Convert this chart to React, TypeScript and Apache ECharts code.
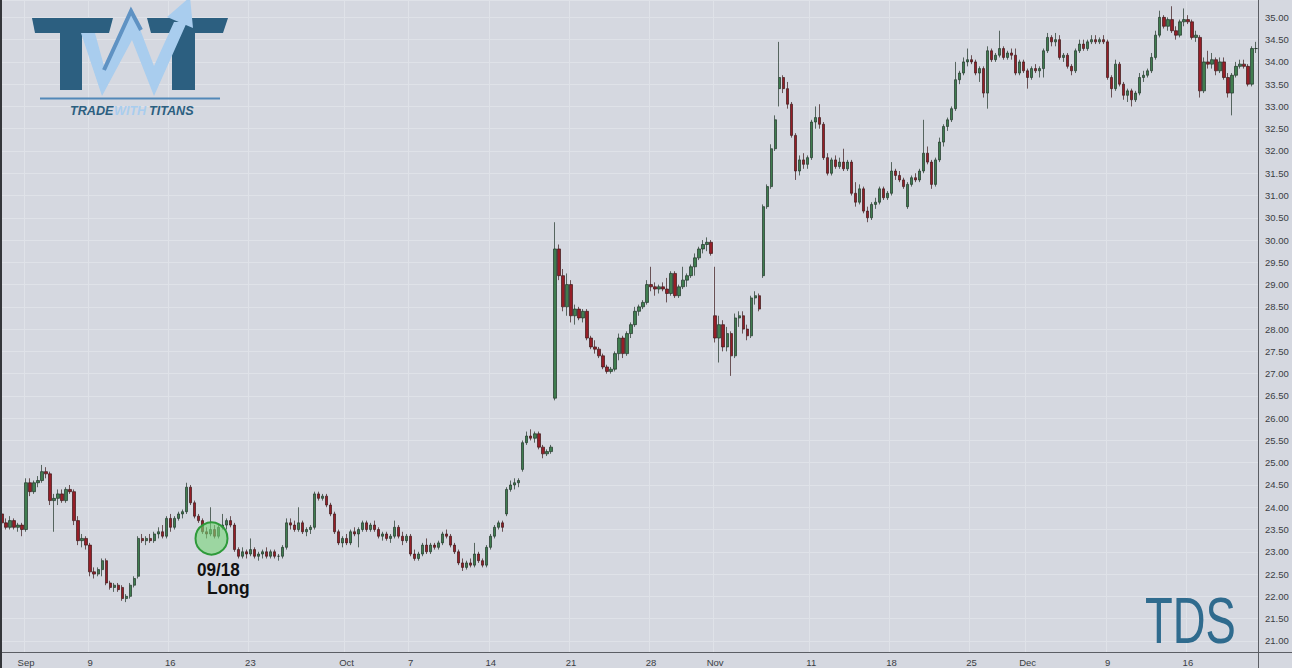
import React, { useEffect, useRef } from "react";
import * as echarts from "echarts";

// ---- data ----
const tradingDays = [
  "2024-08-29", "2024-08-30",
  "2024-09-03", "2024-09-04", "2024-09-05", "2024-09-06",
  "2024-09-09", "2024-09-10", "2024-09-11", "2024-09-12", "2024-09-13",
  "2024-09-16", "2024-09-17", "2024-09-18", "2024-09-19", "2024-09-20",
  "2024-09-23", "2024-09-24", "2024-09-25", "2024-09-26", "2024-09-27",
  "2024-09-30", "2024-10-01", "2024-10-02", "2024-10-03", "2024-10-04",
  "2024-10-07", "2024-10-08", "2024-10-09", "2024-10-10", "2024-10-11",
  "2024-10-14", "2024-10-15", "2024-10-16", "2024-10-17", "2024-10-18",
  "2024-10-21", "2024-10-22", "2024-10-23", "2024-10-24", "2024-10-25",
  "2024-10-28", "2024-10-29", "2024-10-30", "2024-10-31", "2024-11-01",
  "2024-11-04", "2024-11-05", "2024-11-06", "2024-11-07", "2024-11-08",
  "2024-11-11", "2024-11-12", "2024-11-13", "2024-11-14", "2024-11-15",
  "2024-11-18", "2024-11-19", "2024-11-20", "2024-11-21", "2024-11-22",
  "2024-11-25", "2024-11-26", "2024-11-27", "2024-11-29",
  "2024-12-02", "2024-12-03", "2024-12-04", "2024-12-05", "2024-12-06",
  "2024-12-09", "2024-12-10", "2024-12-11", "2024-12-12", "2024-12-13",
  "2024-12-16", "2024-12-17", "2024-12-18", "2024-12-19", "2024-12-20",
];
const barsPerDay = 4;
const shortDays: Record<string, number> = { "2024-08-29": 2, "2024-11-29": 2, "2024-12-20": 2 };

const tickDays = [
  "2024-09-03", "2024-09-09", "2024-09-16", "2024-09-23", "2024-10-01", "2024-10-07",
  "2024-10-14", "2024-10-21", "2024-10-28", "2024-11-01", "2024-11-11", "2024-11-18",
  "2024-11-25", "2024-12-02", "2024-12-09", "2024-12-16",
];
const tickLabels = ["Sep", "9", "16", "23", "Oct", "7", "14", "21", "28", "Nov", "11", "18", "25", "Dec", "9", "16"];

const opens = [
  23.85, 23.65, 23.55, 23.7, 23.55, 23.6, 23.5, 24.55,
  24.35, 24.55, 24.6, 24.8, 24.75, 24.15, 24.2, 24.3, 24.15, 24.4,
  24.35, 23.7, 23.25, 23.3, 23.15, 22.55, 22.5, 22.6, 22.8, 22.3,
  22.2, 22.25, 22.2, 21.95, 22.0, 22.25, 22.45, 23.3, 23.25, 23.3,
  23.25, 23.4, 23.45, 23.35, 23.75, 23.55, 23.75, 23.85, 23.9, 24.45,
  24.1, 23.8, 23.7, 23.45, 23.4, 23.5, 23.35, 23.55, 23.6, 23.7,
  23.6, 23.05, 22.9, 23.0, 22.95, 23.05, 22.9, 22.95, 23.0, 22.9,
  23.0, 22.9, 22.9, 23.1, 23.65, 23.6, 23.5, 23.65, 23.45, 23.5,
  23.55, 24.3, 24.2, 24.25, 24.05, 23.85, 23.45, 23.2, 23.3, 23.2,
  23.45, 23.4, 23.5, 23.65, 23.5, 23.6, 23.5, 23.35, 23.4, 23.3,
  23.35, 23.55, 23.35, 23.25, 23.35, 22.95, 22.85, 22.95, 23.15, 23.0,
  23.15, 23.1, 23.2, 23.4, 23.35, 23.15, 23.0, 22.75, 22.65, 22.75,
  22.7, 22.95, 22.8, 22.7, 23.1, 23.35, 23.55, 23.65, 23.85, 24.4,
  24.5, 24.55, 24.85, 25.45, 25.6, 25.55, 25.65, 25.35, 25.2, 25.25,
  26.45, 29.8, 29.2, 28.5, 29.0, 28.3, 28.45, 28.25, 28.4, 27.8,
  27.6, 27.55, 27.4, 27.15, 27.05, 27.1, 27.45, 27.8, 27.45, 27.9,
  28.1, 28.4, 28.5, 28.6, 29.0, 28.95, 28.9, 28.95, 28.9, 28.8,
  29.25, 28.75, 28.95, 29.1, 29.2, 29.4, 29.6, 29.8, 29.9, 29.95,
  28.3, 27.8, 28.1, 27.6, 27.9, 27.4, 28.25, 28.3, 28.0, 27.85,
  28.7, 28.75, 29.2, 30.75, 31.2, 32.05, 33.4, 33.65, 33.4, 33.05,
  32.35, 31.55, 31.8, 31.7, 31.85, 32.65, 32.75, 32.6, 31.85, 31.5,
  31.8, 31.65, 31.75, 31.6, 31.75, 31.05, 30.85, 31.15, 30.65, 30.5,
  30.8, 30.85, 31.15, 30.95, 31.05, 31.55, 31.45, 31.35, 30.75, 31.25,
  31.4, 31.35, 31.55, 31.95, 31.75, 31.25, 31.8, 32.2, 32.55, 32.7,
  32.95, 33.6, 33.75, 34.0, 34.05, 34.0, 33.75, 33.85, 33.3, 34.25,
  34.05, 34.15, 34.3, 34.1, 34.2, 34.15, 33.75, 34.0, 33.8, 33.65,
  33.85, 33.8, 33.85, 34.25, 34.55, 34.45, 34.5, 34.1, 34.15, 33.9,
  33.8, 34.25, 34.4, 34.3, 34.45, 34.5, 34.45, 34.5, 34.45, 33.65,
  33.4, 33.95, 33.5, 33.25, 33.35, 33.15, 33.3, 33.65, 33.7, 33.8,
  34.1, 34.6, 35.0, 34.8, 34.95, 34.7, 34.6, 34.9, 34.95, 34.9,
  34.55, 34.55, 33.35, 34.0, 33.95, 34.05, 33.8, 34.0, 33.65, 33.3,
  33.7, 33.9, 33.95, 33.9, 33.5, 34.3,
];
const highs = [
  24.02, 23.75, 23.8, 23.75, 23.65, 23.65, 24.65, 24.65,
  24.6, 24.7, 24.95, 24.9, 24.8, 24.3, 24.4, 24.4, 24.45, 24.5,
  24.4, 23.8, 23.4, 23.35, 23.2, 22.65, 22.65, 22.85, 22.85, 22.35,
  22.3, 22.3, 22.25, 22.05, 22.3, 22.45, 23.35, 23.4, 23.35, 23.4,
  23.45, 23.55, 23.6, 23.8, 23.85, 23.8, 23.9, 23.95, 24.55, 24.5,
  24.15, 23.85, 23.75, 23.55, 24.0, 23.6, 23.6, 23.85, 23.75, 23.8,
  23.65, 23.1, 23.1, 23.05, 23.3, 23.1, 23.0, 23.05, 23.1, 23.05,
  23.05, 22.95, 23.15, 23.75, 23.75, 23.7, 24.0, 23.7, 23.55, 23.6,
  24.35, 24.35, 24.3, 24.3, 24.1, 23.9, 23.5, 23.35, 23.4, 23.5,
  23.55, 23.55, 23.7, 23.7, 23.65, 23.7, 23.55, 23.45, 23.45, 23.4,
  23.7, 23.6, 23.45, 23.4, 23.4, 23.05, 23.0, 23.2, 23.3, 23.2,
  23.2, 23.25, 23.45, 23.5, 23.4, 23.2, 23.05, 22.85, 22.8, 22.85,
  23.2, 23.0, 22.85, 23.15, 23.4, 23.6, 23.7, 23.7, 24.45, 24.6,
  24.65, 24.65, 25.5, 25.7, 25.75, 25.7, 25.7, 25.4, 25.3, 25.4,
  30.4, 29.9, 29.35, 29.25, 29.1, 28.55, 28.5, 28.45, 28.45, 27.85,
  27.75, 27.6, 27.45, 27.2, 27.15, 27.5, 27.9, 27.85, 27.95, 28.15,
  28.5, 28.55, 28.65, 29.1, 29.4, 29.05, 29.0, 29.05, 29.15, 29.3,
  29.3, 29.0, 29.4, 29.25, 29.45, 29.7, 29.85, 30.0, 30.06, 30.0,
  29.4, 28.3, 28.2, 28.05, 27.95, 28.35, 28.4, 28.4, 28.1, 28.75,
  28.85, 28.8, 30.8, 31.25, 32.15, 32.8, 34.45, 33.7, 33.55, 33.1,
  32.4, 31.9, 31.95, 31.9, 32.7, 33.0, 33.05, 32.65, 31.95, 31.85,
  31.9, 31.85, 32.05, 31.8, 31.8, 31.3, 31.25, 31.2, 30.75, 30.85,
  30.95, 31.2, 31.2, 31.1, 31.75, 31.6, 31.55, 31.4, 31.3, 31.45,
  31.5, 31.6, 32.7, 32.1, 31.8, 31.85, 32.3, 32.6, 32.75, 33.0,
  34.0, 33.8, 34.1, 34.3, 34.15, 34.05, 33.9, 33.9, 34.35, 34.3,
  34.2, 34.7, 34.35, 34.25, 34.3, 34.3, 34.05, 34.05, 33.85, 33.9,
  33.95, 33.9, 34.3, 34.65, 34.6, 34.65, 34.6, 34.2, 34.2, 33.95,
  34.3, 34.5, 34.5, 34.5, 34.6, 34.6, 34.55, 34.6, 34.5, 33.7,
  34.05, 34.0, 33.55, 33.4, 33.4, 33.35, 33.75, 33.8, 33.85, 34.2,
  34.7, 35.15, 35.05, 35.0, 35.25, 34.8, 34.95, 35.2, 35.05, 34.95,
  34.7, 34.6, 34.1, 34.25, 34.2, 34.1, 34.1, 34.1, 33.75, 33.75,
  34.0, 34.05, 34.05, 33.95, 34.35, 34.45,
];
const lows = [
  23.6, 23.5, 23.5, 23.5, 23.45, 23.35, 23.45, 24.25,
  24.3, 24.45, 24.55, 24.65, 24.05, 23.45, 24.05, 24.1, 24.1, 24.3,
  23.6, 23.15, 23.1, 23.05, 22.45, 22.4, 22.45, 22.45, 22.25, 22.15,
  22.1, 22.1, 21.9, 21.87, 21.95, 22.2, 22.4, 23.2, 23.15, 23.2,
  23.2, 23.3, 23.3, 23.3, 23.45, 23.5, 23.7, 23.75, 23.85, 24.05,
  23.75, 23.65, 23.4, 23.3, 23.35, 23.3, 23.3, 23.5, 23.5, 23.55,
  23.0, 22.85, 22.85, 22.85, 22.9, 22.85, 22.8, 22.85, 22.85, 22.85,
  22.85, 22.8, 22.85, 23.05, 23.5, 23.45, 23.45, 23.4, 23.35, 23.4,
  23.5, 24.15, 24.15, 24.0, 23.8, 23.4, 23.15, 23.1, 23.15, 23.15,
  23.35, 23.1, 23.45, 23.45, 23.45, 23.45, 23.3, 23.25, 23.25, 23.2,
  23.3, 23.3, 23.15, 23.2, 22.9, 22.8, 22.8, 22.9, 22.95, 22.95,
  23.05, 23.05, 23.15, 23.3, 23.1, 22.95, 22.7, 22.57, 22.6, 22.65,
  22.65, 22.75, 22.65, 22.65, 23.05, 23.3, 23.5, 23.45, 23.8, 24.35,
  24.4, 24.45, 24.8, 25.4, 25.5, 25.45, 25.3, 25.1, 25.15, 25.2,
  26.4, 29.1, 28.4, 28.3, 28.15, 28.1, 28.2, 28.15, 27.75, 27.55,
  27.45, 27.35, 27.1, 27.0, 27.0, 27.05, 27.3, 27.35, 27.4, 27.8,
  28.05, 28.3, 28.45, 28.55, 28.85, 28.75, 28.8, 28.85, 28.6, 28.75,
  28.7, 28.7, 28.9, 28.95, 29.15, 29.2, 29.55, 29.7, 29.75, 29.65,
  27.7, 27.25, 27.5, 27.5, 26.95, 27.35, 28.05, 27.9, 27.75, 27.8,
  28.55, 28.4, 29.15, 30.7, 31.15, 32.0, 33.0, 33.3, 32.95, 32.3,
  31.35, 31.45, 31.6, 31.6, 31.8, 32.5, 32.5, 31.8, 31.45, 31.45,
  31.6, 31.6, 31.55, 31.55, 31.0, 30.75, 30.8, 30.6, 30.4, 30.45,
  30.7, 30.8, 30.9, 30.9, 31.0, 31.35, 31.3, 31.15, 30.7, 31.2,
  31.3, 31.3, 31.5, 31.7, 31.15, 31.2, 31.75, 32.1, 32.45, 32.65,
  32.9, 33.5, 33.7, 33.9, 33.95, 33.7, 33.55, 33.2, 32.95, 34.0,
  34.0, 34.1, 34.05, 34.05, 34.05, 33.7, 33.7, 33.75, 33.4, 33.6,
  33.75, 33.65, 33.65, 34.2, 34.35, 34.35, 34.05, 34.0, 33.85, 33.7,
  33.75, 34.2, 34.25, 34.25, 34.4, 34.4, 34.4, 34.4, 33.6, 33.2,
  33.35, 33.45, 33.15, 33.1, 33.0, 33.1, 33.25, 33.55, 33.65, 33.75,
  34.05, 34.55, 34.75, 34.7, 34.65, 34.5, 34.55, 34.8, 34.85, 34.5,
  34.45, 33.2, 33.3, 33.85, 33.85, 33.7, 33.75, 33.6, 33.2, 32.8,
  33.65, 33.85, 33.85, 33.45, 33.45, 34.2,
];
const closes = [
  23.65, 23.55, 23.7, 23.55, 23.6, 23.5, 24.55, 24.35,
  24.55, 24.6, 24.8, 24.75, 24.15, 24.2, 24.3, 24.15, 24.4, 24.35,
  23.7, 23.25, 23.3, 23.15, 22.55, 22.5, 22.6, 22.8, 22.3, 22.2,
  22.25, 22.15, 21.95, 22.0, 22.25, 22.4, 23.3, 23.25, 23.3, 23.25,
  23.4, 23.45, 23.35, 23.75, 23.55, 23.75, 23.85, 23.9, 24.45, 24.1,
  23.8, 23.7, 23.45, 23.4, 23.5, 23.35, 23.55, 23.6, 23.7, 23.6,
  23.05, 22.9, 23.0, 22.95, 23.05, 22.9, 22.95, 23.0, 22.9, 23.0,
  22.9, 22.9, 23.1, 23.65, 23.6, 23.5, 23.65, 23.45, 23.5, 23.55,
  24.3, 24.2, 24.25, 24.05, 23.85, 23.45, 23.2, 23.3, 23.2, 23.45,
  23.4, 23.5, 23.65, 23.5, 23.6, 23.5, 23.35, 23.4, 23.3, 23.35,
  23.55, 23.35, 23.25, 23.35, 22.95, 22.85, 22.95, 23.15, 23.0, 23.15,
  23.1, 23.2, 23.4, 23.35, 23.15, 23.0, 22.75, 22.65, 22.75, 22.7,
  22.95, 22.8, 22.7, 23.1, 23.35, 23.55, 23.65, 23.55, 24.4, 24.5,
  24.55, 24.6, 25.45, 25.6, 25.55, 25.65, 25.35, 25.2, 25.25, 25.35,
  29.8, 29.2, 28.5, 29.0, 28.3, 28.45, 28.25, 28.4, 27.8, 27.6,
  27.55, 27.4, 27.15, 27.05, 27.1, 27.45, 27.8, 27.45, 27.9, 28.1,
  28.4, 28.5, 28.6, 29.0, 28.95, 28.9, 28.95, 28.9, 28.8, 29.25,
  28.75, 28.95, 29.1, 29.2, 29.4, 29.6, 29.8, 29.9, 29.95, 29.7,
  27.8, 28.1, 27.6, 27.9, 27.4, 28.25, 28.3, 28.0, 27.85, 28.7,
  28.75, 28.45, 30.75, 31.2, 32.05, 32.7, 33.65, 33.4, 33.05, 32.35,
  31.55, 31.8, 31.7, 31.85, 32.65, 32.75, 32.6, 31.85, 31.5, 31.8,
  31.65, 31.75, 31.6, 31.75, 31.05, 30.85, 31.15, 30.65, 30.5, 30.8,
  30.85, 31.15, 30.95, 31.05, 31.55, 31.45, 31.35, 31.2, 31.25, 31.4,
  31.35, 31.55, 31.95, 31.75, 31.25, 31.8, 32.2, 32.55, 32.7, 32.95,
  33.6, 33.75, 34.0, 34.05, 34.0, 33.75, 33.85, 33.3, 34.25, 34.05,
  34.15, 34.3, 34.1, 34.2, 34.15, 33.75, 34.0, 33.8, 33.65, 33.85,
  33.8, 33.85, 34.25, 34.55, 34.45, 34.5, 34.1, 34.15, 33.9, 33.8,
  34.25, 34.4, 34.3, 34.45, 34.5, 34.45, 34.5, 34.45, 33.65, 33.4,
  33.95, 33.5, 33.25, 33.35, 33.15, 33.3, 33.65, 33.7, 33.8, 34.1,
  34.6, 35.0, 34.8, 34.95, 34.7, 34.6, 34.9, 34.95, 34.9, 34.55,
  34.6, 33.35, 34.0, 33.95, 34.05, 33.8, 34.0, 33.65, 33.3, 33.7,
  33.9, 33.95, 33.9, 33.5, 34.3, 34.3,
];

// ---- derived tables for the library ----
const categories: string[] = [];
const tickMap = new Map<number, string>();
tradingDays.forEach((d) => {
  const n = shortDays[d] ?? barsPerDay;
  const t = tickDays.indexOf(d);
  if (t >= 0) tickMap.set(categories.length, tickLabels[t]);
  for (let k = 0; k < n; k++) categories.push(`${d} #${k + 1}`);
});
const ohlc = opens.map((o, i) => [o, closes[i], lows[i], highs[i]]);

const BG = "#d5d8e0";
const GRID = "#dfe2e8";
const AXIS = "#5b5e64";
const LABEL = "#3a3d43";
const FONT = '"Liberation Sans Narrow", "Liberation Sans", Arial, sans-serif';
const LOGO_DARK = "#2c5f80";
const LOGO_LIGHT = "#a9cdee";
const LOGO_MID = "#5f92c3";

export default function App() {
  const ref = useRef<HTMLDivElement>(null);
  useEffect(() => {
    if (!ref.current) return;
    const chart = echarts.init(ref.current, undefined, { renderer: "svg" });
    const isHalf = (v: number) => Math.abs(v * 2 - Math.round(v * 2)) < 1e-6;
    chart.setOption({
      animation: false,
      backgroundColor: BG,
      grid: { left: 0, top: 0, width: 1258, height: 652, containLabel: false },
      xAxis: {
        type: "category",
        data: categories,
        boundaryGap: true,
        axisLine: { show: true, lineStyle: { color: AXIS, width: 1 } },
        axisTick: { show: false },
        axisLabel: {
          interval: (i: number) => tickMap.has(i),
          formatter: (_v: string, i: number) => tickMap.get(i) ?? "",
          color: LABEL,
          fontSize: 9.5,
          fontFamily: FONT,
          margin: 5,
        },
        splitLine: {
          show: true,
          interval: (i: number) => tickMap.has(i),
          lineStyle: { color: GRID, width: 1 },
        },
      },
      yAxis: {
        type: "value",
        position: "right",
        min: 20.75,
        max: 35.39,
        interval: 0.25,
        axisLine: { show: true, lineStyle: { color: AXIS, width: 1 } },
        axisTick: { show: false },
        axisLabel: {
          formatter: (v: number) => (isHalf(v) ? v.toFixed(2) : ""),
          color: LABEL,
          fontSize: 9.5,
          fontFamily: FONT,
          margin: 7,
        },
        splitLine: { show: true, lineStyle: { color: ["rgba(0,0,0,0)", GRID], width: 1 } },
      },
      series: [
        {
          type: "candlestick",
          data: ohlc,
          barWidth: 2.8,
          itemStyle: {
            color: "#3f7d4f",
            color0: "#961e27",
            borderColor: "#1f3326",
            borderColor0: "#3b1719",
            borderWidth: 0.7,
          },
        },
      ],
      graphic: [
        { type: "line", z: 100, shape: { x1: 1, y1: 0, x2: 1, y2: 668 }, style: { stroke: "#34363a", lineWidth: 2 } },
        { type: "line", z: 100, shape: { x1: 1258.5, y1: 652, x2: 1258.5, y2: 668 }, style: { stroke: AXIS, lineWidth: 1 } },
        { type: "line", z: 100, shape: { x1: 1258, y1: 652.5, x2: 1292, y2: 652.5 }, style: { stroke: AXIS, lineWidth: 1 } },
        {
          type: "text", z: 100, x: 1265, y: -4,
          style: { text: "35.50", fontSize: 9.5, fontFamily: FONT, fill: LABEL, verticalAlign: "middle", textVerticalAlign: "middle" },
        },
        // logo
        { type: "polygon", z: 100, shape: { points: [[32, 18], [113, 18], [109, 33], [35, 33]] }, style: { fill: LOGO_DARK } },
        { type: "rect", z: 100, shape: { x: 60, y: 32, width: 22, height: 58 }, style: { fill: LOGO_DARK } },
        { type: "polygon", z: 100, shape: { points: [[147, 18], [228, 18], [223, 33], [151, 33]] }, style: { fill: LOGO_DARK } },
        { type: "rect", z: 100, shape: { x: 172, y: 32, width: 23, height: 58 }, style: { fill: LOGO_DARK } },
        {
          type: "polygon",
          z: 101,
          shape: {
            points: [[81, 33], [102, 96], [132, 40], [154, 96], [187, 22], [174, 22], [154, 66], [132, 8], [104, 66], [95, 33]],
          },
          style: { fill: LOGO_LIGHT },
        },
        { type: "polygon", z: 101, shape: { points: [[167, 17], [193, 28], [190, -3]] }, style: { fill: LOGO_LIGHT } },
        { type: "polyline", z: 102, shape: { points: [[104, 70], [131, 11], [141, 30]] }, style: { stroke: LOGO_MID, lineWidth: 4, fill: null } },
        { type: "line", z: 100, shape: { x1: 40, y1: 98.5, x2: 220, y2: 98.5 }, style: { stroke: "#5288b8", lineWidth: 2 } },
        {
          type: "text", z: 100, x: 70, y: 110.5,
          style: { text: "TRADE", fontSize: 12.6, fontWeight: "bold", fontStyle: "italic", fontFamily: '"Liberation Sans", Arial, sans-serif', fill: LOGO_DARK, verticalAlign: "middle", textVerticalAlign: "middle" },
        },
        {
          type: "text", z: 100, x: 114, y: 110.5,
          style: { text: "WITH", fontSize: 12.6, fontWeight: "bold", fontStyle: "italic", fontFamily: '"Liberation Sans", Arial, sans-serif', fill: LOGO_LIGHT, verticalAlign: "middle", textVerticalAlign: "middle" },
        },
        {
          type: "text", z: 100, x: 149, y: 110.5,
          style: { text: "TITANS", fontSize: 12.6, fontWeight: "bold", fontStyle: "italic", fontFamily: '"Liberation Sans", Arial, sans-serif', fill: LOGO_DARK, verticalAlign: "middle", textVerticalAlign: "middle" },
        },
        // ticker watermark
        {
          type: "text", z: 100, x: 1145, y: 621.5, scaleX: 0.71,
          style: { text: "TDS", fontSize: 64, fontFamily: '"Liberation Sans", Arial, sans-serif', fill: "#2f6b8e", verticalAlign: "middle", textVerticalAlign: "middle" },
        },
        // entry annotation
        {
          type: "circle", z: 100,
          shape: { cx: 211.5, cy: 538.5, r: 16 },
          style: { fill: "rgba(118,214,118,0.6)", stroke: "#2e9a3a", lineWidth: 2 },
        },
        {
          type: "text", z: 100, x: 197, y: 569.5, scaleX: 0.9,
          style: { text: "09/18", fontSize: 19, fontWeight: "bold", fontFamily: '"Liberation Sans", Arial, sans-serif', fill: "#111", verticalAlign: "middle", textVerticalAlign: "middle" },
        },
        {
          type: "text", z: 100, x: 207, y: 587.5, scaleX: 0.92,
          style: { text: "Long", fontSize: 19, fontWeight: "bold", fontFamily: '"Liberation Sans", Arial, sans-serif', fill: "#111", verticalAlign: "middle", textVerticalAlign: "middle" },
        },
      ],
    });
    return () => chart.dispose();
  }, []);
  return <div ref={ref} style={{ position: "fixed", left: 0, top: 0, width: 1292, height: 668 }} />;
}
